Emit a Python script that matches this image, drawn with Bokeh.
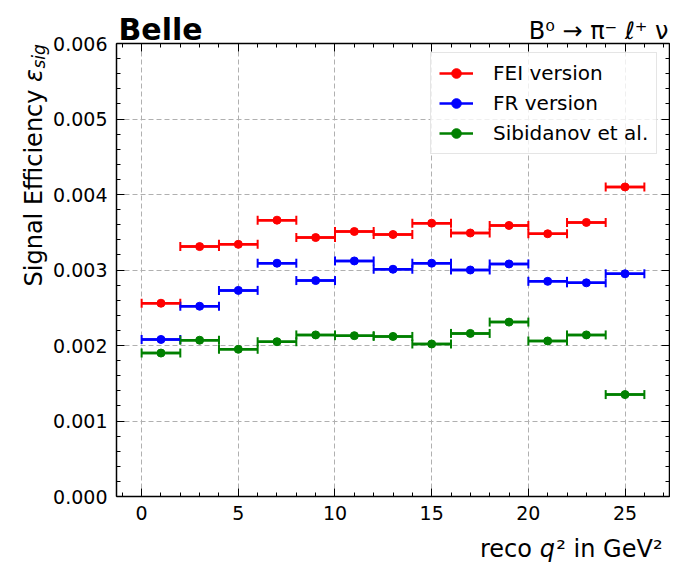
from math import pi
from bokeh.plotting import figure
from bokeh.models import (Range1d, SingleIntervalTicker, LinearAxis, PrintfTickFormatter,
                          Whisker, TeeHead, ColumnDataSource, Label, Legend, LegendItem)
from bokeh.embed import file_html
from bokeh.resources import INLINE

# ---- data ----
bin_lo = [0, 2, 4, 6, 8, 10, 12, 14, 16, 18, 20, 22, 24]
bin_hi = [2, 4, 6, 8, 10, 12, 14, 16, 18, 20, 22, 24, 26]
bin_center = [1, 3, 5, 7, 9, 11, 13, 15, 17, 19, 21, 23, 25]
fei = [0.00256, 0.00331, 0.00334, 0.00366, 0.00343, 0.00351, 0.00347,
       0.00362, 0.00349, 0.00359, 0.00348, 0.00363, 0.00410]
fr = [0.00208, 0.00252, 0.00273, 0.00309, 0.00286, 0.00312, 0.00301,
      0.00309, 0.00300, 0.00308, 0.00285, 0.00283, 0.00295]
sib = [0.00190, 0.00207, 0.00195, 0.00205, 0.00214, 0.00213, 0.00212,
       0.00202, 0.00216, 0.00231, 0.00206, 0.00214, 0.00135]
series_names = ["FEI version", "FR version", "Sibidanov et al."]
series_colors = ["#ff0000", "#0000ff", "#008000"]
series_values = [fei, fr, sib]
x_limits = (-1.3, 27.3)
y_limits = (0.0, 0.006)

FONT = "DejaVu Sans"
# canvas and plotting-box geometry (pixels)
FW, FH = 670, 565
BL, BR, BT, BB = 116, 669, 43, 496

xpx = (BR - BL) / (x_limits[1] - x_limits[0])
ypx = (BB - BT) / (y_limits[1] - y_limits[0])
x_rng = Range1d(x_limits[0] - BL / xpx, x_limits[1] + (FW - BR) / xpx)
y_rng = Range1d(y_limits[0] - (FH - BB) / ypx, y_limits[1] + BT / ypx)

p = figure(width=FW, height=FH, output_backend="svg", toolbar_location=None,
           x_range=x_rng, y_range=y_rng, x_axis_location=None, y_axis_location=None,
           min_border=0, min_border_left=0, min_border_right=0,
           min_border_top=0, min_border_bottom=0, title=None)
p.background_fill_color = "white"
p.border_fill_color = "white"
p.outline_line_color = None
p.xgrid.visible = False
p.ygrid.visible = False

xt = SingleIntervalTicker(interval=5, num_minor_ticks=5)
yt = SingleIntervalTicker(interval=0.001, num_minor_ticks=5)


def grid_axis(ticker, loc, bounds, length, side):
    ax = LinearAxis(ticker=ticker, fixed_location=loc, bounds=bounds, level="underlay")
    ax.axis_line_color = None
    ax.minor_tick_line_color = None
    ax.major_tick_in = length
    ax.major_tick_out = 0
    ax.major_tick_line_color = "#b0b0b0"
    ax.major_tick_line_width = 1
    ax.major_tick_line_dash = "5 3"
    ax.major_label_text_font_size = "0px"
    ax.major_label_text_alpha = 0
    ax.major_label_standoff = 0
    p.add_layout(ax, side)


# dashed grid lines drawn as long inward ticks, under the data
grid_axis(xt, y_limits[0], x_limits, BB - BT, "below")
grid_axis(yt, x_limits[0], y_limits, BR - BL, "left")


def frame_axis(ticker, loc, bounds, side, show_labels, fmt=None):
    ax = LinearAxis(ticker=ticker, fixed_location=loc, bounds=bounds)
    if fmt is not None:
        ax.formatter = fmt
    ax.axis_line_color = "black"
    ax.axis_line_width = 1.5
    ax.major_tick_in = 8
    ax.major_tick_out = 0
    ax.minor_tick_in = 4
    ax.minor_tick_out = 0
    ax.major_tick_line_color = "black"
    ax.minor_tick_line_color = "black"
    ax.major_tick_line_width = 1
    ax.minor_tick_line_width = 1
    ax.major_label_text_font = FONT
    ax.major_label_text_color = "black"
    if show_labels:
        ax.major_label_text_font_size = "19px"
        ax.major_label_standoff = 9
    else:
        ax.major_label_text_font_size = "0px"
        ax.major_label_text_alpha = 0
        ax.major_label_standoff = 0
    p.add_layout(ax, side)


frame_axis(xt, y_limits[0], x_limits, "below", True)
frame_axis(yt, x_limits[0], y_limits, "left", True, PrintfTickFormatter(format="%.3f"))
frame_axis(xt, y_limits[1], x_limits, "above", False)
frame_axis(yt, x_limits[1], y_limits, "right", False)

items = []
for name, col, vals in zip(series_names, series_colors, series_values):
    src = ColumnDataSource(dict(x=bin_center, lo=bin_lo, hi=bin_hi, y=vals))
    seg = p.segment(x0="lo", x1="hi", y0="y", y1="y", source=src,
                    line_color=col, line_width=2.5)
    wh = Whisker(source=src, base="y", lower="lo", upper="hi", dimension="width",
                 line_color=col, line_width=2.5,
                 lower_head=TeeHead(size=9, line_color=col, line_width=2),
                 upper_head=TeeHead(size=9, line_color=col, line_width=2))
    p.add_layout(wh)
    sc = p.scatter("x", "y", source=src, size=8, color=col, marker="circle")
    items.append(LegendItem(label=name, renderers=[seg, sc]))

legend = Legend(items=items, location=(430, 411), margin=0, padding=8,
                glyph_width=34, glyph_height=24, label_height=24, spacing=6,
                label_standoff=20, label_text_font=FONT, label_text_font_size="20px",
                label_text_color="black", border_line_color="#cccccc", border_line_width=1,
                background_fill_color="white", background_fill_alpha=0.8)
p.add_layout(legend, "center")


def lab(**kw):
    base = dict(x_units="screen", y_units="screen", text_font=FONT,
                text_color="black", text_baseline="alphabetic")
    base.update(kw)
    p.add_layout(Label(**base))


top_y = FH - BT   # y of the box top, measured from the bottom
# titles
lab(x=BL + 2, y=top_y + 14, text="Belle", text_font_style="bold", text_font_size="30px",
    text_align="left")
lab(x=BR - 1, y=top_y + 13, text="B⁰ → π⁻ ℓ⁺ ν", text_font_size="24px",
    text_align="right")

# x label (right aligned at the box's right end)
xr = BR - 7
xb = FH - BB - 52
lab(x=xr, y=xb, text="² in GeV²", text_font_size="24px", text_align="right")
lab(x=xr - 107.5, y=xb, text="q", text_font_size="24px", text_font_style="italic",
    text_align="right")
lab(x=xr - 123, y=xb, text="reco ", text_font_size="24px", text_align="right")

# y label (top aligned)
yb = 33
lab(x=yb, y=top_y - 46, angle=pi / 2, text="Signal Efficiency", text_font_size="24px",
    text_align="right")
lab(x=yb, y=top_y - 38.5, angle=pi / 2, text="ε", text_font_size="24px",
    text_font_style="italic", text_align="left")
lab(x=yb + 5, y=top_y - 25, angle=pi / 2, text="sig", text_font_size="17px",
    text_font_style="italic", text_align="left")

open("out.html", "w").write(file_html(p, INLINE))
